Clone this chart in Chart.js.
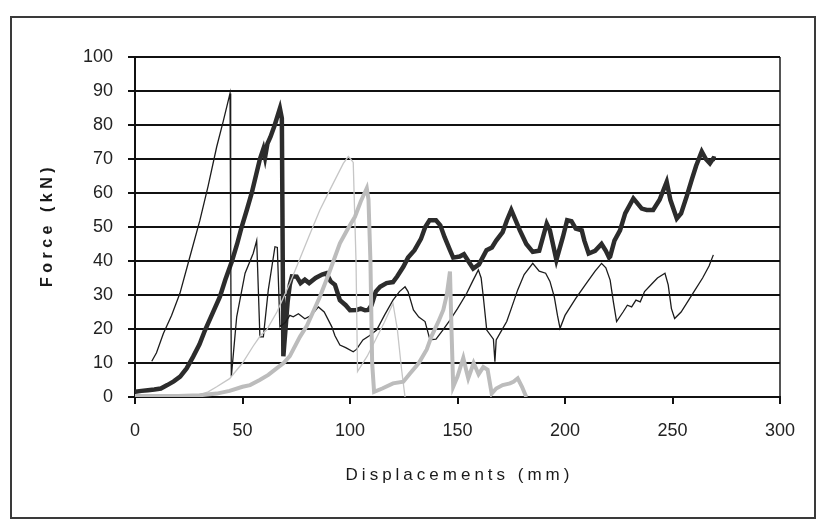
<!DOCTYPE html>
<html>
<head>
<meta charset="utf-8">
<script src="https://cdn.jsdelivr.net/npm/chart.js@4.4.1/dist/chart.umd.min.js"></script>
<style>
  body { margin: 0; background: #fff; }
  canvas { display: block; }
</style>
</head>
<body>
<canvas id="grafico" width="818" height="523"></canvas>
<script>
// axis ranges / titles
const xRange = [0, 300]
const yRange = [0, 100]
const xStep = 50
const yStep = 10
const xTitle = 'Displacements (mm)'
const yTitle = 'Force (kN)'

// thin dark curve
const thinDarkX = [7.8, 10, 13.2, 17, 20.9, 25, 30.2, 34, 38, 41, 44.2, 44.5, 44.8, 47.3, 51.2, 55, 56.6, 58.1, 59.7, 62, 65.1, 66.2, 67.4, 70, 72, 73.6, 76, 79, 82, 85.3, 88, 91.5, 93, 95.3, 98, 101.5, 103, 106, 109, 112.4, 116, 120, 123, 125.6, 127, 129.5, 132, 134.9, 137.2, 140, 143, 146.5, 150, 154.3, 157, 159.7, 161, 162, 163.6, 166.7, 167.4, 168, 170, 172.9, 175, 178, 181, 185, 188, 191, 193, 195, 196.5, 197.7, 200, 205, 210, 214, 217, 219, 221, 222.5, 224, 227, 229, 231, 233, 235, 237, 240, 243, 246.5, 248, 249.5, 251, 254, 257, 260, 264, 267, 269]
const thinDarkY = [10.5, 13, 18.7, 24, 30.5, 40, 52, 62, 73.6, 81, 89.3, 46, 6, 23.6, 36.4, 42.3, 46, 17.7, 17.7, 31.5, 44.2, 44, 20.7, 22, 24, 23.6, 24.5, 23, 24, 26.5, 25, 20.7, 18, 15.3, 14.5, 13.3, 14, 16.8, 18, 19.7, 24, 28.5, 31, 32.4, 31, 25.6, 23.5, 22.2, 16.8, 17, 19.5, 22.6, 26, 30.5, 34, 37.4, 35, 29.5, 19.7, 17, 10.4, 16.8, 19, 22.2, 26, 31.5, 36, 39.3, 37, 36.4, 34, 29.5, 24, 20.2, 24, 29, 33.5, 37, 39.3, 38, 34.4, 28, 22.2, 25, 27, 26.5, 28.5, 28, 31, 33, 35, 36.4, 33, 26, 23.1, 25, 28, 31, 35, 38.5, 41.8]

// thick dark curve
const thickDarkX = [0, 3, 6, 9, 12, 15, 18, 21, 24, 27, 30, 32.6, 36, 39.5, 42, 45, 47.5, 49.6, 52, 54.3, 56.2, 58.1, 59.7, 60.5, 61.6, 63, 65, 67.4, 68.3, 69, 70, 71, 72, 73, 75.2, 77, 79, 81, 84, 87, 89, 91, 93, 95.3, 98, 100, 103, 105, 107, 108.5, 110, 112, 114, 117, 120, 122, 124.8, 127, 130, 133, 135, 137, 140, 142, 144, 146.5, 148, 151, 153, 155, 157.3, 160, 163.5, 166, 168, 171, 173, 175, 177, 179, 182, 185, 188, 191.5, 193, 196, 199, 201, 203, 205, 207.8, 209, 211, 214, 217, 219, 220.5, 221, 223, 225.6, 228, 231.8, 235.7, 238, 241, 244, 247.3, 249, 252, 254, 256.6, 259, 261, 263.6, 265.5, 267.4, 269, 270]
const thickDarkY = [1.5, 1.8, 2, 2.2, 2.5, 3.5, 4.6, 6, 8.4, 11.8, 15.5, 19.7, 24.5, 29.5, 34.5, 39.8, 45, 50, 55, 60, 65, 70, 73, 70.5, 74.5, 76.5, 80, 84.9, 82, 12, 20, 28, 33, 35.5, 35.4, 33.5, 34.5, 33.5, 35, 36, 36.4, 34, 33, 28.5, 27, 25.5, 25.6, 26, 25.5, 25.6, 27, 31, 32.4, 33.5, 33.8, 35.5, 38.3, 41, 43.2, 46.5, 50, 52, 52, 50.5, 47, 43.2, 41, 41.3, 42, 40, 37.8, 39, 43.2, 44, 46, 48.5, 52, 55, 52, 49, 45, 42.7, 43, 51, 49, 40.3, 47, 52, 51.7, 49.5, 49, 46, 42.2, 43, 45, 43, 41, 41.3, 46, 49, 54, 58.4, 55.4, 55, 55, 58, 63.3, 58, 52.5, 54, 59, 64, 68, 72.2, 70, 68.7, 70.2, 70]

// thin light grey curve
const thinGreyX = [0, 10, 20, 30, 34, 38, 44, 50, 55, 58.3, 61.2, 66, 72, 81.4, 86, 90.7, 96.9, 99.2, 100.3, 101.5, 102.8, 103.5, 108, 112, 116, 120, 122, 124, 125.6]
const thinGreyY = [0.3, 0.3, 0.4, 0.6, 1.5, 3, 5.4, 10, 15, 18, 19.7, 25, 33.4, 48, 55, 61, 68.7, 70.7, 70, 69, 40, 7.5, 12, 17, 22, 27.5, 20, 8, 0]

// thick light grey curve
const thickGreyX = [0, 10, 20, 30, 38, 44, 50, 53.5, 58, 62, 66, 69, 72, 76.7, 80, 86, 90, 95.3, 99, 102.3, 105, 107.8, 108.6, 109.5, 110.3, 111.2, 115, 120, 124.8, 128, 132, 135.7, 138, 141, 143.4, 145, 146.5, 147.2, 148, 150, 152.7, 154, 155, 157.5, 159.8, 162, 164, 165.9, 168, 171, 174.4, 176, 178, 180, 182]
const thickGreyY = [0.3, 0.3, 0.3, 0.5, 1, 1.8, 3, 3.5, 5, 6.5, 8.5, 9.9, 12, 17.7, 21, 29.5, 36, 45.2, 49.5, 53, 57.5, 61.4, 58, 40, 10, 1.5, 2.5, 4, 4.5, 7, 10, 14, 18, 22, 25.6, 30, 36.9, 20, 3, 6, 11.5, 8, 5.5, 10, 6.7, 8.8, 8, 1, 2.5, 3.5, 4, 4.5, 5.5, 3, 0]

const pares = (xs, ys) => xs.map((x, i) => ({ x: x, y: ys[i] }))

const marco = {
    id: 'marco',
    beforeDraw(chart) {
        const ctx = chart.ctx
        ctx.save()
        ctx.fillStyle = '#fff'
        ctx.fillRect(0, 0, chart.width, chart.height)
        ctx.restore()
    },
    afterDraw(chart) {
        const ctx = chart.ctx
        const area = chart.chartArea
        ctx.save()
        ctx.strokeStyle = '#3a3a3a'
        ctx.lineWidth = 2
        ctx.strokeRect(11, 17, 804, 501)

        ctx.fillStyle = '#1a1a1a'
        ctx.textAlign = 'center'
        ctx.textBaseline = 'middle'
        ctx.letterSpacing = '4px'
        ctx.font = '17px "Liberation Sans", Arial, sans-serif'
        ctx.fillText(xTitle, (area.left + area.right) / 2 + 2, 475)

        ctx.translate(48, (area.top + area.bottom) / 2)
        ctx.rotate(-Math.PI / 2)
        ctx.font = 'bold 16px "Liberation Sans", Arial, sans-serif'
        ctx.letterSpacing = '4.5px'
        ctx.fillText(yTitle, 2, 0)
        ctx.restore()
    }
}

const datasets = [
    { data: pares(thickGreyX, thickGreyY), borderColor: '#bcbcbc', borderWidth: 4 },
    { data: pares(thinGreyX, thinGreyY), borderColor: '#c6c6c6', borderWidth: 1.3 },
    { data: pares(thinDarkX, thinDarkY), borderColor: '#1c1c1c', borderWidth: 1.3 },
    { data: pares(thickDarkX, thickDarkY), borderColor: '#2c2c2c', borderWidth: 4.5 }
]

const fuenteTicks = { family: '"Liberation Sans", Arial, sans-serif', size: 18 }

const config = {
    type: 'line',
    data: { datasets },
    options: {
        responsive: false,
        animation: false,
        events: [],
        layout: { padding: { top: 57, right: 38, left: 0, bottom: 0 } },
        elements: { point: { radius: 0 }, line: { tension: 0 } },
        plugins: { legend: { display: false }, tooltip: { enabled: false } },
        scales: {
            x: {
                type: 'linear',
                min: xRange[0],
                max: xRange[1],
                afterFit: (s) => { s.height = 126 },
                ticks: { stepSize: xStep, color: '#222', font: fuenteTicks, padding: 16, maxRotation: 0 },
                grid: {
                    drawOnChartArea: true,
                    color: (c) => (c.tick && c.tick.value === xRange[1]) ? '#555' : 'rgba(0,0,0,0)',
                    tickColor: '#111',
                    tickLength: 7,
                    lineWidth: 2
                },
                border: { display: true, color: '#111', width: 2 }
            },
            y: {
                min: yRange[0],
                max: yRange[1],
                afterFit: (s) => { s.width = 135 },
                ticks: { stepSize: yStep, color: '#222', font: fuenteTicks, padding: 15 },
                grid: { color: '#111', lineWidth: 2, tickLength: 7 },
                border: { display: true, color: '#111', width: 2 }
            }
        }
    },
    plugins: [marco]
}

const grafico = document.querySelector('#grafico')
new Chart(grafico, config)
</script>
</body>
</html>
